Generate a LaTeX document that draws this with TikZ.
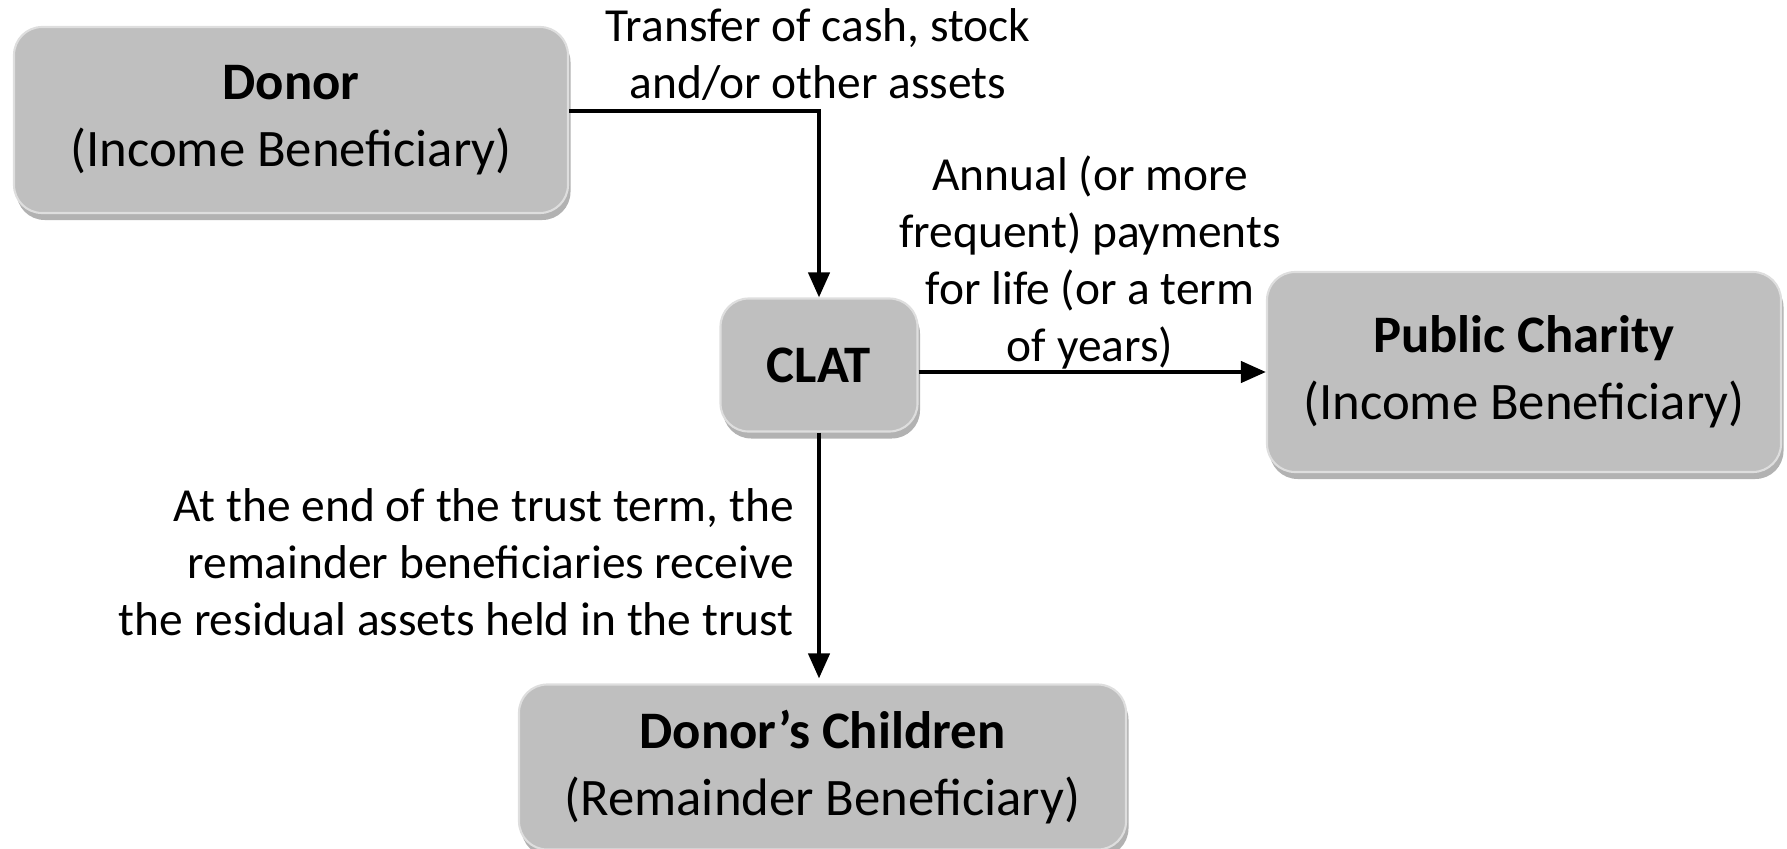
\documentclass[tikz,border=0pt]{standalone}
\usepackage{fontspec}
\setmainfont{Carlito}
\usetikzlibrary{calc,arrows.meta,positioning,shadows}
\definecolor{boxgrey}{RGB}{191,191,191}
\definecolor{boxedge}{RGB}{222,222,222}
\tikzset{
  partybox/.style={rectangle, rounded corners=16pt, fill=boxgrey, draw=boxedge, line width=1.2pt,
                   align=center, inner sep=2pt, font=\fontsize{30}{38}\selectfont,
                   drop shadow={shadow xshift=0.05cm, shadow yshift=-0.14cm,
                                fill=black, opacity=0.3}},
  flowline/.style={line width=2.4pt, black},
  flowarrow/.style={flowline, -{Triangle[length=5mm, width=4.2mm]}},
  flowlabel/.style={align=center, inner sep=0pt, font=\fontsize{27}{32.4}\selectfont},
}
\begin{document}
\begin{tikzpicture}
  \useasboundingbox (0,0) rectangle (35.74,16.96);
  \node[partybox, minimum width=11.08cm, minimum height=3.72cm] (donor)    at (5.82,14.56)
       {\textbf{Donor}\\(Income Beneficiary)};
  \node[partybox, minimum width=3.94cm,  minimum height=2.66cm] (clat)     at (16.38,9.66)
       {\textbf{CLAT}};
  \node[partybox, minimum width=10.28cm, minimum height=4.0cm]  (charity)  at (30.48,9.52)
       {\textbf{Public Charity}\\(Income Beneficiary)};
  \node[partybox, minimum width=12.14cm, minimum height=3.3cm]  (children) at (16.45,1.62)
       {\textbf{Donor’s Children}\\(Remainder Beneficiary)};
  % connectors
  \draw[flowarrow] ([yshift=0.18cm]donor.east) -| (clat.north);
  \draw[flowarrow] (clat.east |- charity.west) -- (charity.west);
  \draw[flowarrow] (clat.south) -- ([yshift=0.1cm]clat.south |- children.north);
  % labels
  \node[flowlabel] (transfer) at (16.36,15.87) {Transfer of cash, stock\\and/or other assets};
  \node[flowlabel] (payments) at (21.8,11.71)
       {Annual (or more\\frequent) payments\\for life (or a term\\of years)};
  \node[flowlabel, align=right, anchor=east] (residual) at (15.88,5.72)
       {At the end of the trust term, the\\remainder beneficiaries receive\\the residual assets held in the trust};
\end{tikzpicture}
\end{document}
